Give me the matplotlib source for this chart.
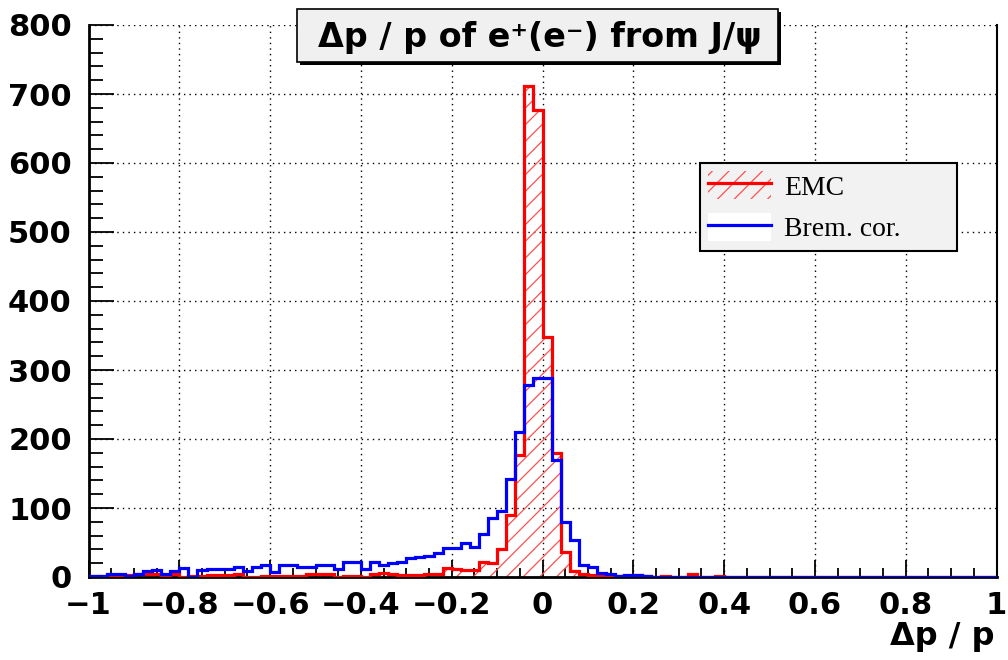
import numpy as np
import matplotlib
matplotlib.use("Agg")
import matplotlib.pyplot as plt
from matplotlib.patches import Patch, Rectangle
from matplotlib.lines import Line2D
from matplotlib.ticker import MultipleLocator, FuncFormatter

# ---- data: 100 bins of width 0.02 from -1 to 1 ----
bin_lo = -1.0
bin_hi = 1.0
n_bins = 100

emc_counts = [1, 1, 2, 2, 3, 4, 5, 5, 3, 5,
              0, 1, 2, 3, 3, 3, 4, 0, 0, 1,
              1, 2, 2, 1, 4, 4, 4, 0, 2, 2,
              0, 4, 6, 4, 3, 3, 3, 5, 5, 13,
              11, 10, 10, 22, 21, 40, 90, 177, 712, 677,
              348, 179, 36, 8, 4, 3, 2, 2, 1, 0,
              3, 1, 0, 2, 0, 0, 4, 0, 0, 2,
              0, 0, 0, 0, 0, 0, 0, 0, 0, 0,
              0, 0, 0, 0, 0, 0, 0, 0, 0, 0,
              0, 0, 0, 0, 0, 0, 0, 0, 0, 0]

brem_counts = [1, 1, 5, 5, 2, 5, 8, 10, 5, 8,
               13, 0, 10, 12, 12, 12, 14, 9, 14, 18,
               7, 18, 17, 14, 14, 17, 17, 11, 22, 22,
               11, 22, 17, 20, 22, 27, 29, 30, 35, 42,
               42, 50, 44, 62, 86, 96, 142, 210, 278, 288,
               288, 169, 80, 54, 17, 14, 6, 5, 1, 3,
               3, 1, 0, 0, 0, 0, 0, 0, 0, 0,
               0, 0, 0, 0, 0, 0, 0, 0, 0, 0,
               0, 0, 0, 0, 0, 0, 0, 0, 0, 0,
               0, 0, 0, 0, 0, 0, 0, 0, 0, 0]

labels = ["EMC", "Brem. cor."]
title = "\u0394p / p of e\u207a(e\u207b) from J/\u03c8"
xlabel = "\u0394p / p"

plt.rcParams["font.family"] = ["DejaVu Sans"]
plt.rcParams["hatch.linewidth"] = 0.9

W, H = 1008, 660
fig = plt.figure(figsize=(W / 100, H / 100), dpi=100)
ax = fig.add_axes([88.5 / W, 1 - 577 / H, (996.5 - 88.5) / W, (577 - 25) / H])

edges = np.linspace(bin_lo, bin_hi, n_bins + 1)
ax.stairs(emc_counts, edges, fill=True, facecolor="none", edgecolor="#ff5050",
          hatch="//", linewidth=0, zorder=2)
ax.stairs(emc_counts, edges, color="red", linewidth=2.3, zorder=3)
ax.stairs(brem_counts, edges, color="blue", linewidth=2.3, zorder=4)

ax.set_xlim(-1, 1)
ax.set_ylim(0, 800)
ax.xaxis.set_major_locator(MultipleLocator(0.2))
ax.xaxis.set_minor_locator(MultipleLocator(0.05))
ax.yaxis.set_major_locator(MultipleLocator(100))
ax.yaxis.set_minor_locator(MultipleLocator(20))


def fmt(v, pos):
    v = round(v, 2)
    if abs(v) < 1e-9:
        return "0"
    return ("%g" % v).replace("-", "\u2212")


ax.xaxis.set_major_formatter(FuncFormatter(fmt))
ax.yaxis.set_major_formatter(FuncFormatter(fmt))

ax.tick_params(which="both", direction="in", top=False, right=False,
               width=1.3, color="black")
ax.tick_params(axis="x", which="major", length=12, pad=10)
ax.tick_params(axis="x", which="minor", length=6.5)
ax.tick_params(axis="y", which="major", length=18, pad=12)
ax.tick_params(axis="y", which="minor", length=10)
for lab in ax.get_xticklabels() + ax.get_yticklabels():
    lab.set_fontsize(22)
    lab.set_fontweight("bold")

ax.grid(True, which="major", color="black", linestyle=(0, (1, 3)), linewidth=1.0)
ax.set_axisbelow(True)
for s in ["left", "bottom"]:
    ax.spines[s].set_linewidth(2.0)
ax.spines["right"].set_linewidth(1.5)
ax.spines["top"].set_visible(False)

# legend
h1 = (Patch(facecolor="none", edgecolor="#ff5050", hatch="//", linewidth=0),
      Line2D([], [], color="red", linewidth=2.3))
h2 = (Patch(facecolor="white", edgecolor="none"),
      Line2D([], [], color="blue", linewidth=2.3))
leg = ax.legend([h1, h2], labels, loc="upper left",
                bbox_to_anchor=(0.6735, 0.589, 0.283, 0.161), mode="expand",
                borderaxespad=0, prop={"family": "Liberation Serif", "size": 20},
                frameon=True, fancybox=False, edgecolor="black", facecolor="#f2f2f2",
                framealpha=1, handlelength=2.27, handleheight=1.15, handletextpad=0.47,
                borderpad=0.3, labelspacing=0.45)
leg.get_frame().set_linewidth(1.5)

# title box with shadow
bx0, bx1, by0, by1 = 297, 778, 9, 62
fig.patches.append(Rectangle(((bx0 + 3) / W, 1 - (by1 + 3) / H), (bx1 - bx0) / W,
                             (by1 - by0) / H, transform=fig.transFigure,
                             facecolor="black", edgecolor="none", zorder=5))
fig.patches.append(Rectangle((bx0 / W, 1 - by1 / H), (bx1 - bx0) / W,
                             (by1 - by0) / H, transform=fig.transFigure,
                             facecolor="#f0f0f0", edgecolor="black", linewidth=1.2, zorder=6))
fig.text(540 / W, 1 - 37 / H, title, ha="center", va="center",
         fontsize=24, fontweight="bold", zorder=7)

fig.text(995 / W, 1 - 636 / H, xlabel, ha="right", va="center",
         fontsize=23, fontweight="bold")

fig.savefig("out.png", dpi=100)
